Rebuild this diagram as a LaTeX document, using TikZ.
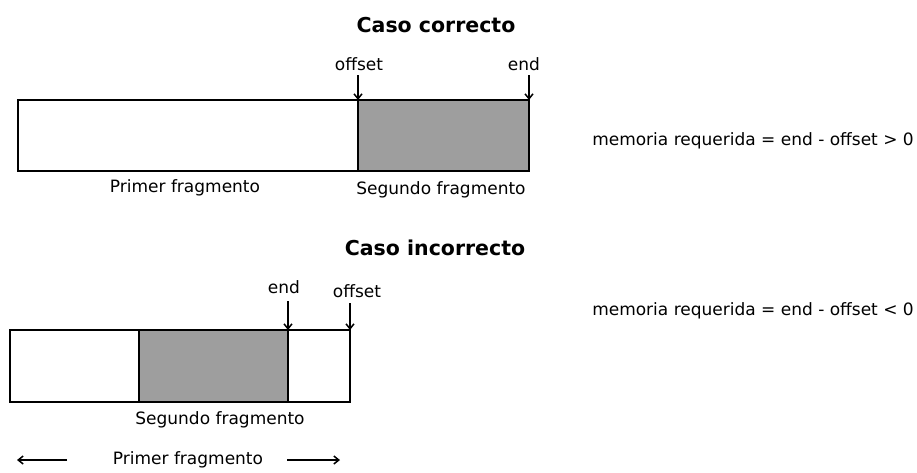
\documentclass[tikz,border=0pt]{standalone}
\usepackage{fontspec}
\setmainfont{DejaVu Sans}
\usetikzlibrary{arrows.meta}
\begin{document}
\begin{tikzpicture}[x=1pt,y=-1pt,
    lbl/.style={font=\fontsize{17}{19}\selectfont, inner sep=0pt},
    ttl/.style={font=\bfseries\fontsize{20.5}{22}\selectfont, inner sep=0pt},
    ptr/.style={-{Straight Barb[length=5pt,width=8pt]}, line width=1.5pt},
    frame/.style={line width=1.4pt},
    filled/.style={fill=black!38}]
  \useasboundingbox (0,0) rectangle (917,472);
  % caso correcto
  \draw
    (436,25) node[ttl] (t1){Caso correcto}
    (359,64) node[lbl] (off1){offset}
    (524,64) node[lbl] (end1){end}
    (185,188) node[lbl] (p1){Primer fragmento}
    (441,190) node[lbl] (s1){Segundo fragmento}
    (753,141) node[lbl] (m1){memoria requerida = end - offset > 0};
  \fill[filled] (358,100) rectangle (529,171);
  \draw[frame] (18,100) rectangle (529,171);
  \draw[frame] (358,100) -- (358,171);
  \coordinate (a1) at (358,100);
  \coordinate (b1) at (529,100);
  % caso incorrecto
  \draw
    (435,248) node[ttl] (t2){Caso incorrecto}
    (284,287) node[lbl] (end2){end}
    (357,291) node[lbl] (off2){offset}
    (220,420) node[lbl] (s2){Segundo fragmento}
    (188,460) node[lbl] (p2){Primer fragmento}
    (753,311) node[lbl] (m2){memoria requerida = end - offset < 0};
  \fill[filled] (139,330) rectangle (288,402);
  \draw[frame] (10,330) rectangle (350,402);
  \draw[frame] (139,330) -- (139,402) (288,330) -- (288,402);
  \coordinate (a2) at (288,330);
  \coordinate (b2) at (350,330);
  \coordinate (l1) at (67,460);
  \coordinate (l2) at (17,460);
  \coordinate (r1) at (287,460);
  \coordinate (r2) at (340,460);
  \begin{scope}[ptr]
    \draw (358,75) to (a1);
    \draw (529,75) to (b1);
    \draw (288,301) to (a2);
    \draw (350,303) to (b2);
    \draw (l1) to (l2);
    \draw (r1) to (r2);
  \end{scope}
\end{tikzpicture}
\end{document}
